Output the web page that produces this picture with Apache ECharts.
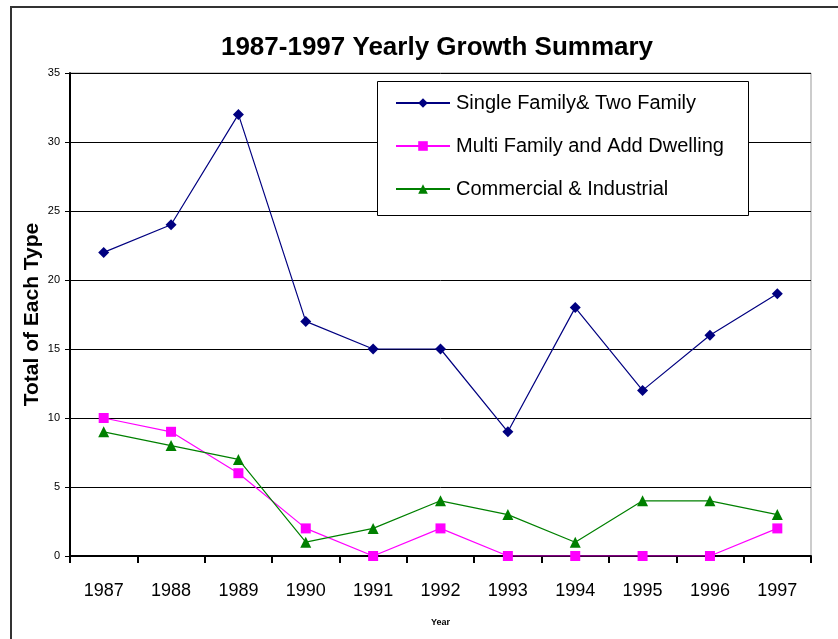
<!DOCTYPE html>
<html>
<head>
<meta charset="utf-8">
<script src="https://cdn.jsdelivr.net/npm/echarts@6/dist/echarts.min.js"></script>
<style>
html,body{margin:0;padding:0;background:#fff;}
#chart{width:838px;height:639px;}
</style>
</head>
<body>
<div id="chart"></div>
<script>
// Yearly permit totals by type
const years = ['1987','1988','1989','1990','1991','1992','1993','1994','1995','1996','1997'];
const singleFamily = [22, 24, 32, 17, 15, 15, 9, 18, 12, 16, 19];
const multiFamily = [10, 9, 6, 2, 0, 2, 0, 0, 0, 0, 2];
const commercial = [9, 8, 7, 1, 2, 4, 3, 1, 4, 4, 3];
const yTicks = [0, 5, 10, 15, 20, 25, 30, 35];

const chart = echarts.init(document.getElementById('chart'));
const FONT = 'Liberation Sans, Arial, sans-serif';

function lineSeries(name, data, color, symbol, size) {
  return {
    name: name,
    type: 'line',
    data: data,
    symbol: symbol,
    symbolSize: size,
    showAllSymbol: true,
    lineStyle: { color: color, width: 1.2 },
    itemStyle: { color: color },
    emphasis: { disabled: true },
    z: 2
  };
}

chart.setOption({
  animation: false,
  backgroundColor: '#fff',
  title: {
    text: '1987-1997 Yearly Growth Summary',
    left: 432,
    textAlign: 'center',
    top: 30,
    textStyle: { fontFamily: FONT, fontWeight: 'bold', fontSize: 26, color: '#000' }
  },
  graphic: [
    {
      type: 'rect',
      shape: { x: 11, y: 7, width: 860, height: 680 },
      style: { fill: 'none', stroke: '#333', lineWidth: 2 },
      silent: true, z: -1
    },
    {
      // legend frame
      type: 'rect',
      shape: { x: 377.5, y: 81.5, width: 371, height: 134 },
      style: { fill: '#fff', stroke: '#000', lineWidth: 1 },
      silent: true, z: 3
    }
  ],
  legend: {
    orient: 'vertical',
    left: 395,
    top: 93,
    padding: 0,
    itemGap: 23,
    itemWidth: 54,
    itemHeight: 12,
    z: 4,
    textStyle: { fontFamily: FONT, fontSize: 20, lineHeight: 20, color: '#000', padding: [0, 0, 0, 1] },
    data: ['Single Family& Two Family', 'Multi Family and Add Dwelling', 'Commercial & Industrial']
  },
  grid: { left: 70, top: 73, right: 27, bottom: 83, show: true, borderColor: '#999', borderWidth: 1 },
  xAxis: {
    type: 'category',
    data: years,
    boundaryGap: true,
    name: 'Year',
    nameLocation: 'middle',
    nameGap: 62,
    nameMoveOverlap: false,
    nameTextStyle: { fontFamily: FONT, fontSize: 9, fontWeight: 'bold', color: '#000' },
    axisLine: { lineStyle: { color: '#000', width: 2 } },
    axisTick: { show: true, length: 7, lineStyle: { color: '#000', width: 2 } },
    axisLabel: { fontFamily: FONT, fontSize: 18, color: '#000', margin: 26 },
    splitLine: { show: false }
  },
  yAxis: {
    type: 'value',
    min: 0,
    max: 35,
    interval: 5,
    name: 'Total of Each Type',
    nameLocation: 'middle',
    nameRotate: 90,
    nameGap: 27,
    nameMoveOverlap: false,
    nameTextStyle: { fontFamily: FONT, fontSize: 21, fontWeight: 'bold', color: '#000' },
    axisLine: { show: true, lineStyle: { color: '#000', width: 2 } },
    axisTick: { show: true, length: 5, lineStyle: { color: '#000', width: 1 } },
    axisLabel: {
      fontFamily: FONT, fontSize: 11, color: '#000', margin: 10,
      formatter: function (v) { return yTicks.indexOf(v) >= 0 ? String(v) : ''; }
    },
    splitLine: { show: true, lineStyle: { color: '#000', width: 1 } }
  },
  series: [
    lineSeries('Single Family& Two Family', singleFamily, '#000080', 'diamond', 11),
    lineSeries('Multi Family and Add Dwelling', multiFamily, '#ff00ff', 'rect', 10),
    lineSeries('Commercial & Industrial', commercial, '#008000', 'triangle', 11)
  ]
});
</script>
</body>
</html>
